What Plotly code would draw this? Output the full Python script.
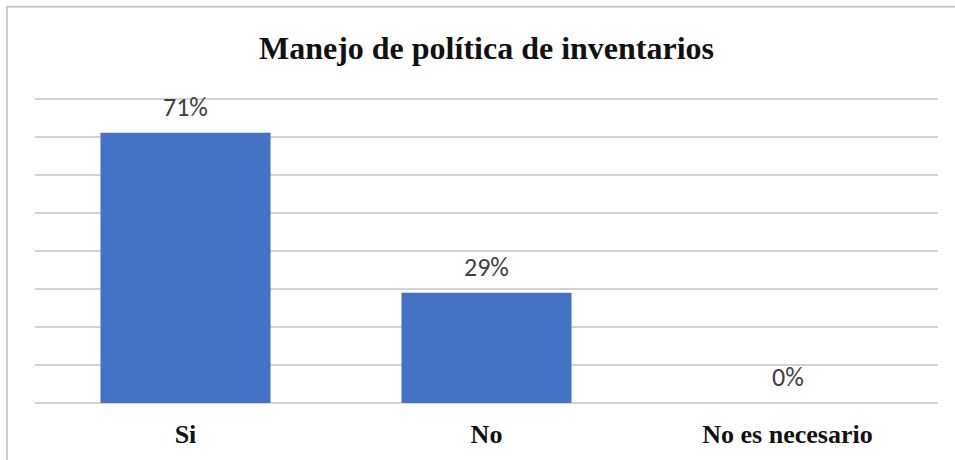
import plotly.graph_objects as go

# Survey responses on inventory policy management
categories = ["Si", "No", "No es necesario"]
shares = [0.71, 0.29, 0.0]

bar_color = "#4472C4"
grid_color = "#d4d4d4"

fig = go.Figure()
fig.add_trace(go.Bar(
    x=categories,
    y=shares,
    marker=dict(color=bar_color, line=dict(width=0)),
    hoverinfo="skip",
))

# Percentage labels above each bar
for cat, val in zip(categories, shares):
    fig.add_annotation(
        x=cat, y=val, xref="x", yref="y",
        text=f"{val:.0%}",
        showarrow=False,
        yanchor="middle",
        yshift=26,
        font=dict(family="Carlito, Liberation Sans, Arial", size=26, color="#404040"),
    )

# Outer chart frame
fig.add_shape(
    type="rect", xref="paper", yref="paper",
    x0=-0.031, x1=1.03, y0=-0.22, y1=1.27,
    line=dict(color="#bfbfbf", width=1.5),
    fillcolor="rgba(0,0,0,0)",
    layer="below",
)

fig.update_layout(
    width=955, height=460,
    paper_bgcolor="white",
    plot_bgcolor="white",
    margin=dict(l=35, r=17, t=91, b=57, autoexpand=False),
    bargap=0.435,
    showlegend=False,
    title=dict(
        text="Manejo de política de inventarios",
        xref="paper", x=0.5, xanchor="center",
        yref="container", y=1 - 48 / 460, yanchor="middle",
        font=dict(family="Liberation Serif, Times New Roman, serif", size=32,
                  color="#111111", weight="bold"),
    ),
    xaxis=dict(
        automargin=False,
        showgrid=False,
        showline=False,
        ticks="outside",
        ticklen=8,
        tickcolor="rgba(0,0,0,0)",
        tickfont=dict(family="Liberation Serif, Times New Roman, serif", size=26,
                      color="#111111", weight="bold"),
    ),
    yaxis=dict(
        automargin=False,
        range=[0, 0.82],
        tick0=0,
        dtick=0.1,
        showticklabels=False,
        showgrid=True,
        gridcolor=grid_color,
        gridwidth=1.5,
        zeroline=True,
        zerolinecolor=grid_color,
        zerolinewidth=1.5,
        showline=False,
        ticks="",
    ),
)

fig.write_html("out.html")
